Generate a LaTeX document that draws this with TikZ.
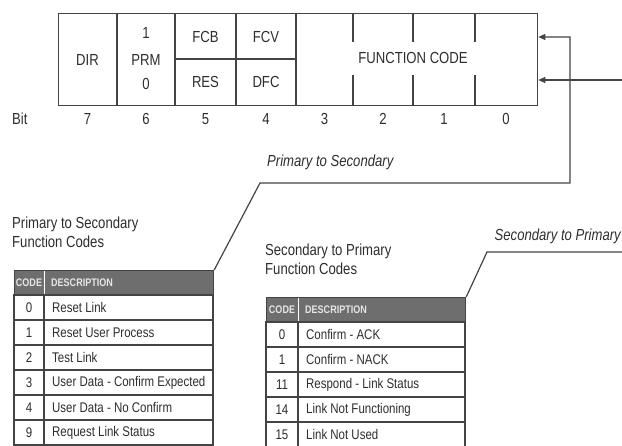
\documentclass[tikz,border=0pt]{standalone}
\usepackage{fontspec}
\setmainfont{Liberation Sans}[FakeStretch=0.82]
\usetikzlibrary{arrows.meta}
\definecolor{ln}{HTML}{444444}
\definecolor{tx}{HTML}{2E2E2E}
\definecolor{hd}{HTML}{6E6E6E}
\definecolor{hdtx}{HTML}{E6E6E6}
\begin{document}
\begin{tikzpicture}[x=1pt,y=-1pt,
  every node/.style={inner sep=0pt, text=tx},
  reglbl/.style={font=\fontsize{16}{18}\selectfont},
  itlbl/.style={font=\fontsize{16}{18}\selectfont\itshape},
  ttl/.style={font=\fontsize{16}{19}\selectfont, align=left, anchor=north west},
  hdrtxt/.style={font=\fontsize{11}{12}\selectfont\bfseries, text=hdtx},
  celltxt/.style={font=\fontsize{14}{16}\selectfont},
  ruleline/.style={draw=ln, line width=1.2pt},
  arr/.style={draw=ln, line width=1.2pt, -{Triangle[length=7pt,width=6pt]}},
  lead/.style={draw=ln, line width=1.2pt},
]
\useasboundingbox (0,0) rectangle (622,446);
\fill[white] (0,0) rectangle (622,446);

% ---------- register ----------
\node[draw=ln, line width=1.3pt, minimum width=479pt, minimum height=92pt, anchor=north west] (reg) at (58,13) {};
\foreach \x in {117,175,236,296} \draw[ruleline] (\x,13) -- (\x,105);
\draw[ruleline] (175,59) -- (296,59);
\foreach \x in {353,413,475} {
  \draw[ruleline] (\x,13) -- (\x,42);
  \draw[ruleline] (\x,75) -- (\x,105);
}
\node[reglbl] (dir) at (87.5,60) {DIR};
\node[reglbl] (prm1) at (146,33) {1};
\node[reglbl] (prm) at (146,60) {PRM};
\node[reglbl] (prm0) at (146,84) {0};
\node[reglbl] (fcb) at (205.5,37) {FCB};
\node[reglbl] (res) at (205.5,82) {RES};
\node[reglbl] (fcv) at (266,37) {FCV};
\node[reglbl] (dfc) at (266,82) {DFC};
\node[reglbl, fill=white, inner xsep=2pt] (fc) at (413,58) {FUNCTION CODE};

% bit numbers
\node[reglbl, anchor=west] (bit) at (12,119) {Bit};
\foreach \x/\b in {87.5/7,146/6,205.5/5,266/4,324.5/3,383/2,444/1,506/0}
  \node[reglbl] (b\b) at (\x,119) {\b};

% ---------- labels ----------
\node[itlbl, anchor=west] (p2s) at (267,162) {Primary to Secondary};
\node[itlbl, anchor=east] (s2p) at (621,236) {Secondary to Primary};

% ---------- table 1 ----------
\node[ttl] (t1title) at (12,217) {Primary to Secondary\\Function Codes};
\node[fill=hd, draw=ln, line width=1.2pt, minimum width=199pt, minimum height=25pt, anchor=north west] (t1) at (14,270) {};
\draw[white, line width=0.8pt] (44,271) -- (44,294);
\node[hdrtxt] (t1hc) at (29,282.5) {CODE};
\node[hdrtxt, anchor=west] (t1hd) at (51,282.5) {DESCRIPTION};
\foreach \c/\d [count=\i from 0] in {0/Reset Link,1/Reset User Process,2/Test Link,3/User Data - Confirm Expected,4/User Data - No Confirm,9/Request Link Status} {
  \pgfmathsetmacro\yy{295+25*\i}
  \draw[ruleline, fill=white] (14,\yy) rectangle (213,\yy+25);
  \draw[ruleline] (44,\yy) -- (44,\yy+25);
  \node[celltxt] (pc\i) at (29,\yy+12.5) {\c};
  \node[celltxt, anchor=west] (pd\i) at (52,\yy+12.5) {\d};
}

% ---------- table 2 ----------
\node[ttl] (t2title) at (265,244) {Secondary to Primary\\Function Codes};
\node[fill=hd, draw=ln, line width=1.2pt, minimum width=199pt, minimum height=25pt, anchor=north west] (t2) at (266,297) {};
\draw[white, line width=0.8pt] (298,298) -- (298,321);
\node[hdrtxt] (t2hc) at (282,309.5) {CODE};
\node[hdrtxt, anchor=west] (t2hd) at (305,309.5) {DESCRIPTION};
\foreach \c/\d [count=\i from 0] in {0/Confirm - ACK,1/Confirm - NACK,11/Respond - Link Status,14/Link Not Functioning,15/Link Not Used} {
  \pgfmathsetmacro\yy{322+25*\i}
  \draw[ruleline, fill=white] (266,\yy) rectangle (465,\yy+25);
  \draw[ruleline] (298,\yy) -- (298,\yy+25);
  \node[celltxt] (sc\i) at (282,\yy+12.5) {\c};
  \node[celltxt, anchor=west] (sd\i) at (306,\yy+12.5) {\d};
}

% ---------- connectors ----------
\coordinate (k1) at (260,183);
\coordinate (k2) at (570,183);
\coordinate (k3) at (570,37);
\draw[arr] (t1.north east) -- (k1) -- (k2) -- (k3) -- (reg.east |- k3);
\coordinate (k4) at (487,252);
\coordinate (k5) at (622,252);
\draw[lead] (t2.north east) -- (k4) -- (k5);
\coordinate (k6) at (622,80);
\draw[arr] (k6) -- (reg.east |- k6);
\end{tikzpicture}
\end{document}
